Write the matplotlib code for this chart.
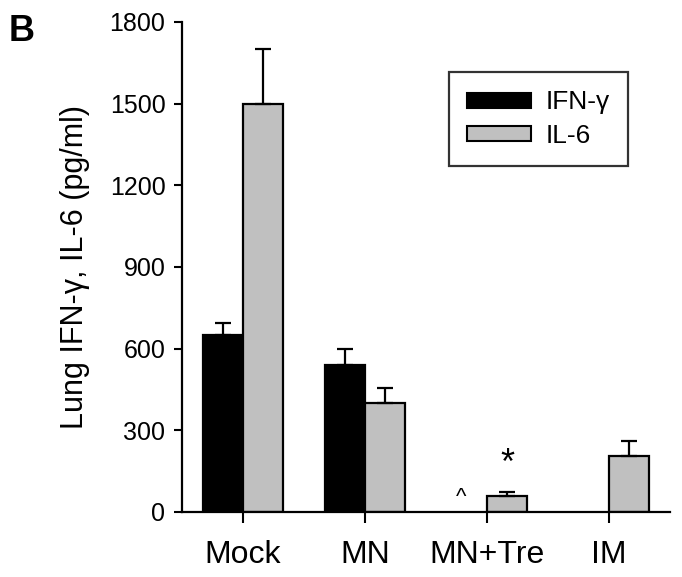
import numpy as np
import matplotlib.pyplot as plt
from matplotlib.patches import Rectangle

plt.rcParams['font.family'] = ['Liberation Sans', 'DejaVu Sans']

# data
groups = ['Mock', 'MN', 'MN+Tre', 'IM']
ifn = [650, 540, 0, 0]
ifn_err = [45, 60, 0, 0]
il6 = [1500, 400, 60, 205]
il6_err = [200, 55, 15, 55]
y_ticks = [0, 300, 600, 900, 1200, 1500, 1800]

fig = plt.figure(figsize=(6.82, 5.77), dpi=100)
ax = fig.add_axes([0.267, 0.1127, 0.715, 0.8492])

x = np.arange(len(groups))
w = 0.33
err_kw = dict(elinewidth=1.6, capsize=6, capthick=1.6, ecolor='black')

for i in range(len(groups)):
    if ifn[i] > 0:
        ax.bar(x[i] - w / 2, ifn[i], w, color='black', edgecolor='black', linewidth=1.6,
               yerr=[[0], [ifn_err[i]]], error_kw=err_kw, zorder=2)
    ax.bar(x[i] + w / 2, il6[i], w, color='#c0c0c0', edgecolor='black', linewidth=1.6,
           yerr=[[0], [il6_err[i]]], error_kw=err_kw, zorder=2)

# significance marks
ax.text(x[2] - w / 2 - 0.05, 55, '^', ha='center', va='center', fontsize=16)
ax.text(x[2] + w / 2, 175, '*', ha='center', va='center', fontsize=26)

ax.set_xlim(-0.5, 3.5)
ax.set_ylim(0, 1800)
ax.set_yticks(y_ticks)
ax.set_xticks(x)
ax.set_xticklabels(groups, fontsize=23)
ax.tick_params(axis='y', labelsize=18, direction='out', length=6, width=1.5, pad=6)
ax.tick_params(axis='x', direction='out', length=8, width=1.5, pad=12)
ax.spines['top'].set_visible(False)
ax.spines['right'].set_visible(False)
for s in ['left', 'bottom']:
    ax.spines[s].set_linewidth(1.6)
ax.set_ylabel('Lung IFN-\u03b3, IL-6 (pg/ml)', fontsize=22, labelpad=14)

leg = ax.legend(handles=[Rectangle((0, 0), 1, 1, facecolor='black', edgecolor='black', linewidth=1.5),
                         Rectangle((0, 0), 1, 1, facecolor='#c0c0c0', edgecolor='black', linewidth=1.5)],
                labels=['IFN-\u03b3', 'IL-6'], loc='upper left', bbox_to_anchor=(0.547, 0.898),
                fontsize=19, frameon=True, fancybox=False, handlelength=2.4, handleheight=0.5,
                borderpad=0.7, labelspacing=0.35, handletextpad=0.55, borderaxespad=0)
leg.get_frame().set_edgecolor('black')
leg.get_frame().set_linewidth(1.6)

fig.text(0.012, 0.975, 'B', fontsize=26, fontweight='bold', va='top', ha='left')

fig.savefig('out.png', dpi=100)
